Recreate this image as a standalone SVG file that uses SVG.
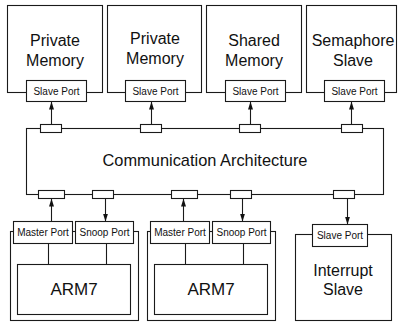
<svg xmlns="http://www.w3.org/2000/svg" width="399" height="322" viewBox="0 0 399 322">
<style>
.b{fill:#fff;stroke:#1a1a1a;stroke-width:1.1}
.l{fill:none;stroke:#1a1a1a;stroke-width:1.1}
.t{font-family:"Liberation Sans",Arial,sans-serif;fill:#111;text-anchor:middle}
.big{font-size:16px}
.sm{font-size:10px}
</style>
<defs>
<marker id="ah" viewBox="0 0 8 8" refX="8" refY="4" markerWidth="8" markerHeight="8" markerUnits="userSpaceOnUse" orient="auto">
<path d="M0,1.5 L8,4 L0,6.5 Z" fill="#111"/>
</marker>
</defs>
<rect width="399" height="322" fill="#fff"/>
<g id="pm1">
<rect class="b" x="7.5" y="5.5" width="95" height="87"/>
<text class="t big" x="55" y="46">Private</text>
<text class="t big" x="55" y="66">Memory</text>
<rect class="b" x="26.5" y="80.5" width="60" height="21"/>
<text class="t sm" x="56.5" y="94.5">Slave Port</text>
</g>
<g id="pm2">
<rect class="b" x="107.5" y="5.5" width="94" height="87"/>
<text class="t big" x="155" y="44">Private</text>
<text class="t big" x="155" y="64">Memory</text>
<rect class="b" x="125.5" y="80.5" width="60" height="21"/>
<text class="t sm" x="155.5" y="94.5">Slave Port</text>
</g>
<g id="sm">
<rect class="b" x="206.5" y="5.5" width="95" height="87"/>
<text class="t big" x="254" y="46">Shared</text>
<text class="t big" x="254" y="66">Memory</text>
<rect class="b" x="225.5" y="80.5" width="60" height="21"/>
<text class="t sm" x="255.5" y="94.5">Slave Port</text>
</g>
<g id="sem">
<rect class="b" x="306.5" y="5.5" width="90" height="87"/>
<text class="t big" x="353" y="46">Semaphore</text>
<text class="t big" x="353" y="66">Slave</text>
<rect class="b" x="324.5" y="80.5" width="60" height="21"/>
<text class="t sm" x="354.5" y="94.5">Slave Port</text>
</g>
<g id="comm">
<rect class="b" x="26.5" y="128.5" width="357" height="66"/>
<text class="t" style="font-size:16.4px" x="205" y="166">Communication Architecture</text>
</g>
<g id="cpu1">
<rect class="b" x="10.5" y="231.5" width="128" height="89"/>
<rect class="b" x="13.5" y="221.5" width="59" height="22"/>
<text class="t sm" x="43" y="236">Master Port</text>
<rect class="b" x="75.5" y="221.5" width="58" height="22"/>
<text class="t sm" x="104.5" y="236">Snoop Port</text>
<rect class="b" x="17.5" y="264.5" width="113" height="50"/>
<text class="t" style="font-size:17px" x="74" y="295">ARM7</text>
<path class="l" d="M48.5,243.5V264.5M106.5,243.5V264.5"/>
</g>
<g id="cpu2">
<rect class="b" x="147.5" y="231.5" width="128" height="89"/>
<rect class="b" x="150.5" y="221.5" width="59" height="22"/>
<text class="t sm" x="180" y="236">Master Port</text>
<rect class="b" x="212.5" y="221.5" width="58" height="22"/>
<text class="t sm" x="241.5" y="236">Snoop Port</text>
<rect class="b" x="154.5" y="264.5" width="113" height="50"/>
<text class="t" style="font-size:17px" x="211" y="295">ARM7</text>
<path class="l" d="M185.5,243.5V264.5M243.5,243.5V264.5"/>
</g>
<g id="irq">
<rect class="b" x="295.5" y="234.5" width="96" height="86"/>
<rect class="b" x="312.5" y="224.5" width="55" height="22"/>
<text class="t sm" x="340" y="239">Slave Port</text>
<text class="t big" x="343" y="276">Interrupt</text>
<text class="t big" x="343" y="295">Slave</text>
</g>
<g id="connectors">
<rect class="b" x="40.5" y="124.5" width="21" height="8"/>
<rect class="b" x="140.5" y="124.5" width="21" height="8"/>
<rect class="b" x="239.5" y="124.5" width="21" height="8"/>
<rect class="b" x="341.5" y="124.5" width="21" height="8"/>
<path class="l" marker-end="url(#ah)" d="M51.5,124.5V101.5"/>
<path class="l" marker-end="url(#ah)" d="M151.5,124.5V101.5"/>
<path class="l" marker-end="url(#ah)" d="M250.5,124.5V101.5"/>
<path class="l" marker-end="url(#ah)" d="M351.5,124.5V101.5"/>
<rect class="b" x="38.5" y="190.5" width="26" height="8"/>
<rect class="b" x="92.5" y="190.5" width="21" height="8"/>
<rect class="b" x="171.5" y="190.5" width="26" height="8"/>
<rect class="b" x="230.5" y="190.5" width="21" height="8"/>
<rect class="b" x="333.5" y="190.5" width="21" height="8"/>
<path class="l" marker-end="url(#ah)" d="M51.5,221.5V198.5"/>
<path class="l" marker-end="url(#ah)" d="M105.5,198.5V221.5"/>
<path class="l" marker-end="url(#ah)" d="M183.5,221.5V198.5"/>
<path class="l" marker-end="url(#ah)" d="M242.5,198.5V221.5"/>
<path class="l" marker-end="url(#ah)" d="M347.5,198.5V224.5"/>
</g>
</svg>
